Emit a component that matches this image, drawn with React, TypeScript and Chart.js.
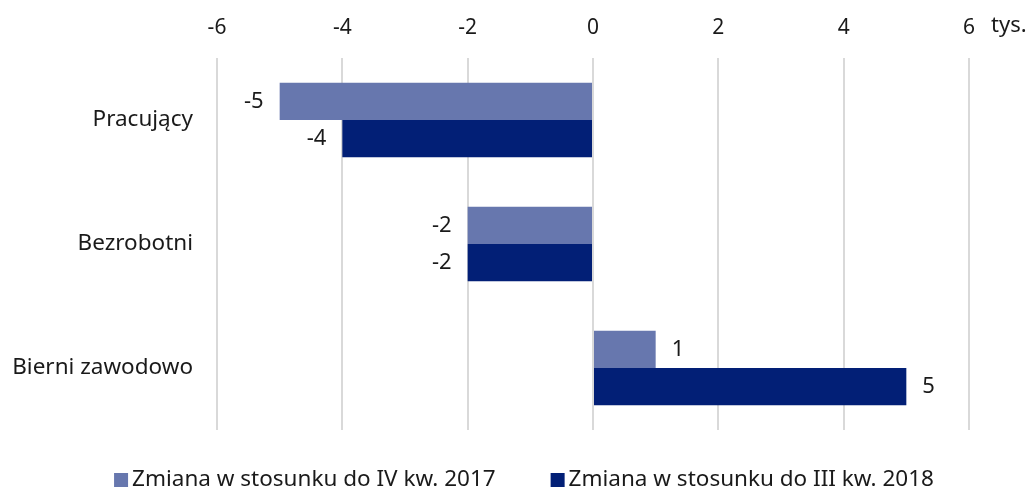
import React, { useEffect, useRef } from "react";
import { Chart, registerables } from "chart.js";

Chart.register(...registerables);

const categories = ["Pracujący", "Bezrobotni", "Bierni zawodowo"];
const seriesNames = ["Zmiana w stosunku do IV kw. 2017", "Zmiana w stosunku do III kw. 2018"];
const seriesIVkw2017 = [-5, -2, 1];
const seriesIIIkw2018 = [-4, -2, 5];
const axisMin = -6;
const axisMax = 6;
const axisStep = 2;
const unitLabel = "tys.";

const FONT = "'Noto Sans', sans-serif";
const TEXT = "#1a1a1a";
const COLORS = ["#6777ae", "#021f76"];

const valueLabels = {
  id: "valueLabels",
  afterDatasetsDraw(chart: any) {
    const ctx = chart.ctx;
    ctx.save();
    ctx.font = `22px ${FONT}`;
    ctx.fillStyle = TEXT;
    ctx.textBaseline = "middle";
    chart.data.datasets.forEach((ds: any, di: number) => {
      const meta = chart.getDatasetMeta(di);
      meta.data.forEach((el: any, i: number) => {
        const v = ds.data[i];
        if (v < 0) {
          ctx.textAlign = "right";
          ctx.fillText(String(v), el.x - 16, el.y);
        } else {
          ctx.textAlign = "left";
          ctx.fillText(String(v), el.x + 16, el.y);
        }
      });
    });
    ctx.restore();
  },
};

const unitPlugin = {
  id: "unitLabel",
  afterDraw(chart: any) {
    const ctx = chart.ctx;
    const xs = chart.scales.x;
    ctx.save();
    ctx.font = `22px ${FONT}`;
    ctx.fillStyle = TEXT;
    ctx.textAlign = "left";
    ctx.textBaseline = "middle";
    ctx.fillText(unitLabel, xs.getPixelForValue(axisMax) + 22, chart.chartArea.top - 32);
    ctx.restore();
  },
};

const bottomLegend = {
  id: "bottomLegend",
  afterDraw(chart: any) {
    const ctx = chart.ctx;
    const box = 14;
    const gapText = 4;
    const gapItem = 55;
    const cy = 480;
    ctx.save();
    ctx.font = `22.5px ${FONT}`;
    const items = chart.data.datasets.map((ds: any) => ({
      text: ds.label,
      color: ds.backgroundColor,
      w: ctx.measureText(ds.label).width,
    }));
    const total =
      items.reduce((s: number, it: any) => s + box + gapText + it.w, 0) + gapItem * (items.length - 1);
    let x = 524 - total / 2;
    ctx.textBaseline = "middle";
    ctx.textAlign = "left";
    items.forEach((it: any) => {
      ctx.fillStyle = it.color;
      ctx.fillRect(x, cy - box / 2, box, box);
      ctx.fillStyle = TEXT;
      ctx.fillText(it.text, x + box + gapText, cy);
      x += box + gapText + it.w + gapItem;
    });
    ctx.restore();
  },
};

export default function App() {
  const ref = useRef<HTMLCanvasElement | null>(null);
  useEffect(() => {
    if (!ref.current) return;
    const chart = new Chart(ref.current, {
      type: "bar",
      data: {
        labels: categories,
        datasets: [
          {
            label: seriesNames[0],
            data: seriesIVkw2017,
            backgroundColor: COLORS[0],
            borderWidth: 0,
            barPercentage: 1,
            categoryPercentage: 0.6,
          },
          {
            label: seriesNames[1],
            data: seriesIIIkw2018,
            backgroundColor: COLORS[1],
            borderWidth: 0,
            barPercentage: 1,
            categoryPercentage: 0.6,
          },
        ],
      },
      options: {
        indexAxis: "y",
        animation: false,
        responsive: false,
        maintainAspectRatio: false,
        layout: { padding: { left: 0, right: 61, top: 0, bottom: 60 } },
        scales: {
          x: {
            position: "top",
            min: axisMin,
            max: axisMax,
            border: { display: false },
            grid: { color: "#d9d9d9", lineWidth: 2, drawTicks: false },
            ticks: {
              stepSize: axisStep,
              padding: 17,
              color: TEXT,
              font: { family: FONT, size: 21 },
            },
            afterFit(scale: any) {
              scale.height = 58;
            },
          },
          y: {
            border: { display: false },
            grid: { display: false, drawTicks: false },
            ticks: {
              padding: 24,
              color: TEXT,
              font: { family: FONT, size: 22.5 },
            },
            afterFit(scale: any) {
              scale.width = 217;
            },
          },
        },
        plugins: {
          legend: { display: false },
          tooltip: { enabled: false },
        },
      },
      plugins: [valueLabels, unitPlugin, bottomLegend],
    });
    return () => chart.destroy();
  }, []);
  return (
    <div style={{ position: "absolute", left: 0, top: 0, width: 1030, height: 490, background: "#fff" }}>
      <canvas ref={ref} width={1030} height={490} />
    </div>
  );
}
